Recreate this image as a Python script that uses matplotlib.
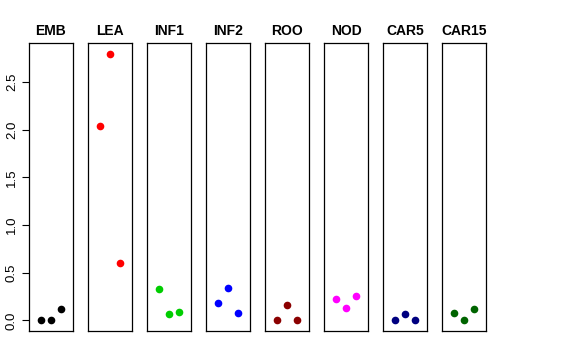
import numpy as np
import matplotlib
matplotlib.use("Agg")
import matplotlib.pyplot as plt

plt.rcParams["font.family"] = ["Liberation Sans", "DejaVu Sans"]

# tissue groups, three samples each
tissues = ["EMB", "LEA", "INF1", "INF2", "ROO", "NOD", "CAR5", "CAR15"]
colors = ["black", "red", "#00CD00", "blue", "#8B0000", "magenta", "#000080", "#006400"]
samples = [1, 2, 3]

emb = [0.0, 0.0, 0.12]
lea = [2.04, 2.80, 0.60]
inf1 = [0.33, 0.07, 0.09]
inf2 = [0.18, 0.34, 0.08]
roo = [0.0, 0.165, 0.0]
nod = [0.22, 0.13, 0.255]
car5 = [0.0, 0.065, 0.0]
car15 = [0.08, 0.0, 0.12]
values = [emb, lea, inf1, inf2, roo, nod, car5, car15]

fig = plt.figure(figsize=(5.76, 3.6), dpi=100)

W, H = 576.0, 360.0
left0, width, step = 29, 44, 59
top, bottom = 43, 331

ymax = max(max(v) for v in values)
pad = 0.04 * ymax

for i, (name, col, vals) in enumerate(zip(tissues, colors, values)):
    ax = fig.add_axes([(left0 + i * step) / W, 1 - bottom / H,
                       width / W, (bottom - top) / H])
    ax.plot(samples, vals, "o", color=col, markersize=5.5, markeredgewidth=0)
    ax.set_xlim(-0.1, 4.1)
    ax.set_ylim(-pad, ymax + pad)
    ax.set_xticks([])
    ax.set_title(name, fontsize=10, fontweight="bold", pad=6)
    for s in ax.spines.values():
        s.set_linewidth(0.9)
    if i == 0:
        ax.set_yticks([0, 0.5, 1.0, 1.5, 2.0, 2.5])
        ax.set_yticklabels(["0.0", "0.5", "1.0", "1.5", "2.0", "2.5"],
                           rotation=90, va="center", fontsize=9.5)
        ax.tick_params(axis="y", length=5, width=0.8, pad=3)
    else:
        ax.set_yticks([])

fig.savefig("out.png", dpi=100)
